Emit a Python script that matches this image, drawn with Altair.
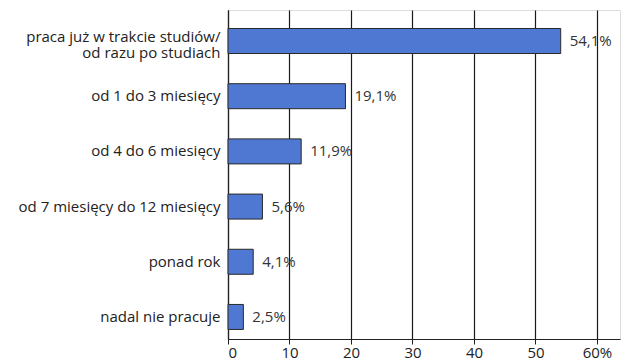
import altair as alt
import pandas as pd

categories = [
    "praca już w trakcie studiów/ od razu po studiach",
    "od 1 do 3 miesięcy",
    "od 4 do 6 miesięcy",
    "od 7 miesięcy do 12 miesięcy",
    "ponad rok",
    "nadal nie pracuje",
]
values = [54.1, 19.1, 11.9, 5.6, 4.1, 2.5]
labels = ["54,1%", "19,1%", "11,9%", "5,6%", "4,1%", "2,5%"]
x_ticks = [0, 10, 20, 30, 40, 50, 60]

df = pd.DataFrame({"cat": categories, "val": values, "lab": labels})

first = categories[0]
label_expr = (
    f"datum.value == '{first}' ? "
    "['praca już w trakcie studiów/', 'od razu po studiach'] : datum.label"
)

y_enc = alt.Y(
    "cat:N",
    sort=categories,
    scale=alt.Scale(paddingInner=0.547, paddingOuter=0.254, align=0.66),
    axis=alt.Axis(
        title=None,
        labelExpr=label_expr,
        labelFont="Open Sans",
        labelFontSize=15,
        labelColor="#222222",
        labelPadding=8,
        labelLineHeight=16,
        labelLimit=220,
        labelOffset={"condition": {"test": f"datum.value == '{first}'", "value": -4}, "value": 0},
        ticks=False,
        domainColor="#222222",
        domainWidth=1.2,
        grid=False,
    ),
)

x_scale = alt.Scale(domain=[0, 63.74], nice=False, zero=True)

bars = alt.Chart(df).mark_bar(
    color="#4f78d2", stroke="#2a2a2a", strokeWidth=1
).encode(
    x=alt.X(
        "val:Q",
        scale=x_scale,
        axis=alt.Axis(
            title=None,
            values=x_ticks,
            labelExpr="datum.value == 60 ? '60%' : datum.label",
            labelFont="Open Sans",
            labelFontSize=15,
            labelColor="#222222",
            labelPadding=1,
            tickColor="#222222",
            tickSize=5,
            domainColor="#222222",
            domainWidth=1.2,
            grid=True,
            gridColor="#1a1a1a",
            gridWidth=1.2,
        ),
    ),
    y=y_enc,
)

text = alt.Chart(df).mark_text(
    align="left", baseline="middle", dx=9, font="Open Sans", fontSize=15, color="#333333"
).encode(
    x=alt.X("val:Q", scale=x_scale),
    y=alt.Y("cat:N", sort=categories),
    text="lab:N",
)

chart = (
    alt.layer(bars, text)
    .properties(
        width=392,
        height=329,
        autosize=alt.AutoSizeParams(type="none"),
        padding={"left": 220, "top": 2, "right": 5, "bottom": 30},
    )
    .configure_view(stroke=None)
    .configure(background="white")
)

chart.save("out.html", embed_options={"renderer": "svg", "actions": False})
